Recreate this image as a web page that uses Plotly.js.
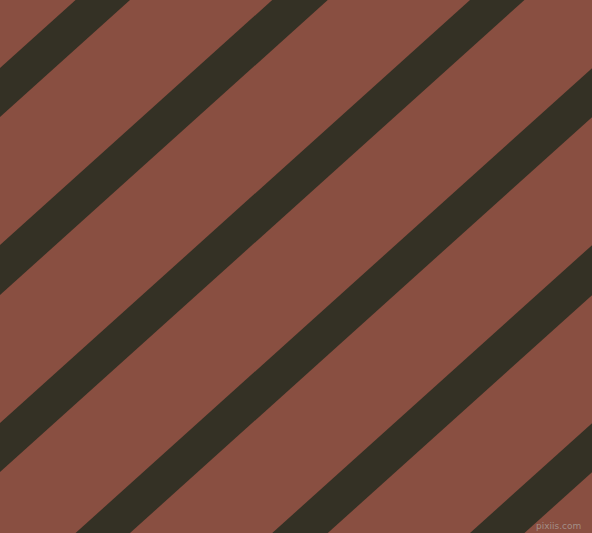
<!DOCTYPE html>
<html>
<head>
<meta charset="utf-8">
<script src="https://cdn.plot.ly/plotly-3.0.1.min.js"></script>
<style>
  html, body { margin: 0; padding: 0; background: #894f41; }
  #chart { width: 592px; height: 533px; }
</style>
</head>
<body>
<div id="chart"></div>
<script>
// stripes run up to the right; each edge is y = c - slope * x (y counted downward)
var stripeSlope = 0.9;
var stripeUpper = [68, 245, 423, 601, 778, 956];
var stripeLower = [117, 295, 472, 650, 828, 1005];

var bgColor = "#894f41";
var stripeColor = "#343125";

var traces = [];
var x0 = -100, x1 = 700;

for (var i = 0; i < stripeUpper.length; i++) {
  var cu = stripeUpper[i];
  var cl = stripeLower[i];
  traces.push({
    type: "scatter",
    mode: "lines",
    x: [x0, x1, x1, x0, x0],
    y: [cu - stripeSlope * x0, cu - stripeSlope * x1, cl - stripeSlope * x1, cl - stripeSlope * x0, cu - stripeSlope * x0],
    fill: "toself",
    fillcolor: stripeColor,
    line: { width: 0, color: stripeColor },
    hoverinfo: "skip",
    showlegend: false
  });
}

var layout = {
  width: 592,
  height: 533,
  margin: { l: 0, r: 0, t: 0, b: 0 },
  paper_bgcolor: bgColor,
  plot_bgcolor: bgColor,
  xaxis: { range: [0, 592], visible: false, fixedrange: true },
  yaxis: { range: [533, 0], visible: false, fixedrange: true },
  showlegend: false,
  annotations: [{
    text: "pixiis.com",
    x: 583, y: 526,
    xref: "x", yref: "y",
    xanchor: "right", yanchor: "middle",
    showarrow: false,
    font: { family: "DejaVu Sans", size: 9, color: "rgba(170,160,155,0.8)" }
  }]
};

Plotly.newPlot("chart", traces, layout, { staticPlot: true, displayModeBar: false });
</script>
</body>
</html>
